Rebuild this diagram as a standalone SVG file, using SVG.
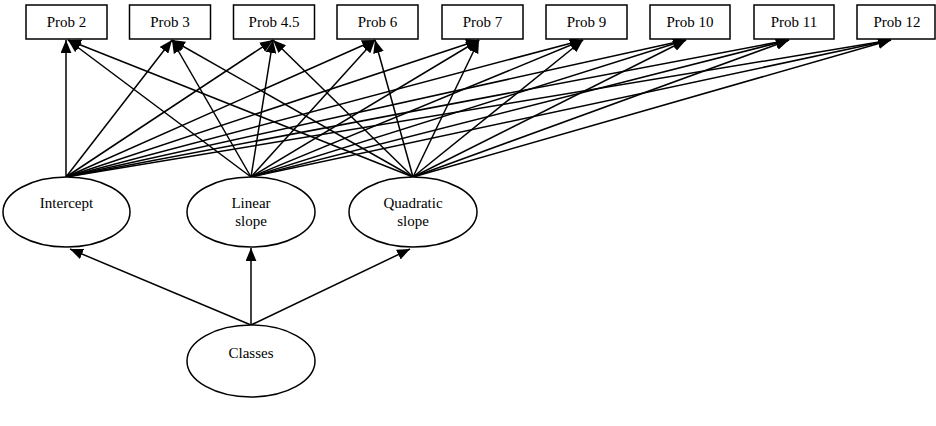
<svg xmlns="http://www.w3.org/2000/svg" width="936" height="426" viewBox="0 0 936 426">
<style>
.box{fill:#fff;stroke:#000;stroke-width:1.5}
.ell{fill:#fff;stroke:#000;stroke-width:1.5}
text{font-family:'Liberation Serif','Times New Roman',serif;font-size:15px;fill:#000;text-anchor:middle}
.c line{stroke:#000;stroke-width:1.5;marker-end:url(#ah)}
</style>
<defs>
<marker id="ah" markerUnits="userSpaceOnUse" markerWidth="13" markerHeight="11" refX="12" refY="5" orient="auto" viewBox="0 0 12 10">
<path d="M0,0 L12,5 L0,10 z" fill="#000"/>
</marker>
</defs>
<rect width="936" height="426" fill="#fff"/>
<g class="c" id="connectors">
<line x1="66" y1="177" x2="66" y2="40"/>
<line x1="66" y1="177" x2="172" y2="40"/>
<line x1="66" y1="177" x2="273" y2="40"/>
<line x1="66" y1="177" x2="375" y2="40"/>
<line x1="66" y1="177" x2="479" y2="40"/>
<line x1="66" y1="177" x2="583" y2="40"/>
<line x1="66" y1="177" x2="686" y2="40"/>
<line x1="66" y1="177" x2="789" y2="40"/>
<line x1="66" y1="177" x2="891" y2="40"/>
<line x1="251" y1="177" x2="68" y2="40"/>
<line x1="251" y1="177" x2="172" y2="40"/>
<line x1="251" y1="177" x2="273" y2="40"/>
<line x1="251" y1="177" x2="375" y2="40"/>
<line x1="251" y1="177" x2="479" y2="40"/>
<line x1="251" y1="177" x2="583" y2="40"/>
<line x1="251" y1="177" x2="686" y2="40"/>
<line x1="251" y1="177" x2="789" y2="40"/>
<line x1="251" y1="177" x2="891" y2="40"/>
<line x1="413" y1="177" x2="68" y2="40"/>
<line x1="413" y1="177" x2="172" y2="40"/>
<line x1="413" y1="177" x2="273" y2="40"/>
<line x1="413" y1="177" x2="375" y2="40"/>
<line x1="413" y1="177" x2="479" y2="40"/>
<line x1="413" y1="177" x2="583" y2="40"/>
<line x1="413" y1="177" x2="686" y2="40"/>
<line x1="413" y1="177" x2="789" y2="40"/>
<line x1="413" y1="177" x2="891" y2="40"/>
<line x1="251" y1="325" x2="70" y2="249"/>
<line x1="251" y1="325" x2="251" y2="248"/>
<line x1="251" y1="325" x2="410" y2="249"/>
</g>
<g id="prob2"><rect class="box" x="26" y="5" width="81" height="34"/><text x="66.5" y="27">Prob 2</text></g>
<g id="prob3"><rect class="box" x="129.5" y="5" width="81" height="34"/><text x="170" y="27">Prob 3</text></g>
<g id="prob45"><rect class="box" x="233.5" y="5" width="81" height="34"/><text x="274" y="27">Prob 4.5</text></g>
<g id="prob6"><rect class="box" x="337" y="5" width="81" height="34"/><text x="377.5" y="27">Prob 6</text></g>
<g id="prob7"><rect class="box" x="442" y="5" width="81" height="34"/><text x="482.5" y="27">Prob 7</text></g>
<g id="prob9"><rect class="box" x="546" y="5" width="81" height="34"/><text x="586.5" y="27">Prob 9</text></g>
<g id="prob10"><rect class="box" x="650" y="5" width="80" height="34"/><text x="690" y="27">Prob 10</text></g>
<g id="prob11"><rect class="box" x="754" y="5" width="80" height="34"/><text x="794" y="27">Prob 11</text></g>
<g id="prob12"><rect class="box" x="857" y="5" width="78" height="34"/><text x="897" y="27">Prob 12</text></g>
<g id="intercept"><ellipse class="ell" cx="66.5" cy="212" rx="63.5" ry="35"/><text x="66.5" y="208">Intercept</text></g>
<g id="linear"><ellipse class="ell" cx="251" cy="212" rx="64" ry="35"/><text x="251" y="208">Linear</text><text x="251" y="226">slope</text></g>
<g id="quadratic"><ellipse class="ell" cx="413" cy="212" rx="64" ry="35"/><text x="413" y="208">Quadratic</text><text x="413" y="226">slope</text></g>
<g id="classes"><ellipse class="ell" cx="251" cy="361" rx="64" ry="36"/><text x="251" y="358">Classes</text></g>
</svg>
